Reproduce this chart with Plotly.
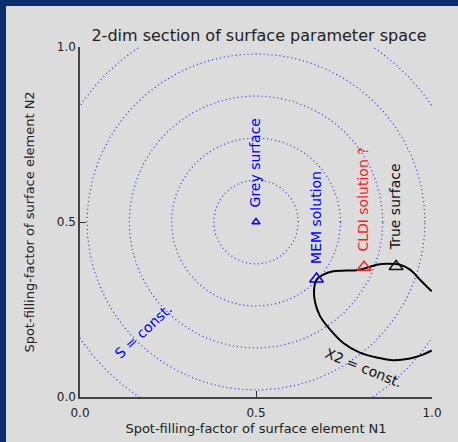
import numpy as np
import plotly.graph_objects as go

# ---------------- data ----------------
title_text = "2-dim section of surface parameter space"
x_title = "Spot-filling-factor of surface element N1"
y_title = "Spot-filling-factor of surface element N2"
tick_vals = [0.0, 0.5, 1.0]
tick_text = ["0.0", "0.5", "1.0"]

# S = const. contours (concentric circles around the grey surface)
s_center = (0.5, 0.5)
s_radii = [0.12, 0.24, 0.36, 0.48, 0.60]

# chi^2 = const. contour
chi_x = [0.999, 0.966, 0.9375, 0.909, 0.871, 0.843, 0.814, 0.786, 0.747, 0.719,
         0.690, 0.672, 0.665, 0.668, 0.682, 0.710, 0.747, 0.795, 0.843, 0.889,
         0.9375, 0.974, 0.999]
chi_y = [0.302, 0.335, 0.364, 0.378, 0.381, 0.378, 0.369, 0.362, 0.361, 0.359,
         0.349, 0.335, 0.307, 0.270, 0.231, 0.193, 0.155, 0.127, 0.113, 0.105,
         0.110, 0.121, 0.133]

# solution points
sol_names = ["Grey surface", "MEM solution", "CLDI solution ?", "True surface"]
sol_x = [0.5, 0.672, 0.807, 0.898]
sol_y = [0.5, 0.337, 0.371, 0.373]
sol_colors = ["#0000ff", "#0000ff", "#ff1a1a", "#111111"]
sol_sizes = [7, 12, 12, 12]
label_x = [0.497, 0.670, 0.803, 0.895]
label_y = [0.670, 0.514, 0.563, 0.542]

# ---------------- figure ----------------
fig = go.Figure()

t = np.linspace(0, 2 * np.pi, 721)
for r in s_radii:
    fig.add_trace(go.Scatter(
        x=s_center[0] + r * np.cos(t), y=s_center[1] + r * np.sin(t),
        mode="lines", line=dict(color="#2a2aff", width=1.2, dash="1px,3px"),
        hoverinfo="skip", showlegend=False))

fig.add_trace(go.Scatter(
    x=chi_x, y=chi_y, mode="lines",
    line=dict(color="#000000", width=2, shape="spline", smoothing=1.0),
    showlegend=False))

for i in range(len(sol_names)):
    fig.add_trace(go.Scatter(
        x=[sol_x[i]], y=[sol_y[i]], mode="markers",
        marker=dict(symbol="triangle-up-open", size=sol_sizes[i],
                    color=sol_colors[i], line=dict(width=1.5, color=sol_colors[i])),
        showlegend=False))
    fig.add_annotation(x=label_x[i], y=label_y[i], text=sol_names[i],
                       textangle=-90, showarrow=False,
                       font=dict(family="DejaVu Sans", size=14, color=sol_colors[i]),
                       xanchor="center", yanchor="middle")

fig.add_annotation(x=0.18, y=0.19, text="S = const.", textangle=-43,
                   showarrow=False,
                   font=dict(family="DejaVu Sans", size=14, color="#0000ff"))
fig.add_annotation(x=0.808, y=0.084, text="X2 = const.", textangle=22,
                   showarrow=False,
                   font=dict(family="DejaVu Sans", size=14, color="#111111"))

# blue frame strips (left and top)
border = "#0b2d6e"
fig.add_shape(type="rect", xref="paper", yref="paper",
              x0=-0.5, x1=-74 / 352, y0=-0.5, y1=1.5,
              fillcolor=border, line=dict(width=0), layer="above")
fig.add_shape(type="rect", xref="paper", yref="paper",
              x0=-0.5, x1=1.5, y0=(47 - 6) / 350 + 1, y1=1.5,
              fillcolor=border, line=dict(width=0), layer="above")

axis_common = dict(
    range=[0, 1], tickvals=tick_vals, ticktext=tick_text,
    ticks="inside", ticklen=6, tickwidth=1.2, tickcolor="#333333",
    showline=True, linecolor="#444444", linewidth=1.5, mirror=False,
    showgrid=False, zeroline=False, automargin=False,
    tickfont=dict(family="DejaVu Sans", size=12, color="#222222"),
)

fig.update_layout(
    width=458, height=442,
    margin=dict(l=80, r=26, t=47, b=45, autoexpand=False),
    paper_bgcolor="#dcdcdc", plot_bgcolor="#dcdcdc",
    title=dict(text=title_text, x=259 / 458, xanchor="center",
               y=1 - 35 / 442, yanchor="middle",
               font=dict(family="DejaVu Sans", size=16, color="#222222")),
    xaxis=dict(axis_common, ticklabelstandoff=4,
               title=dict(text=x_title, standoff=5,
                          font=dict(family="DejaVu Sans", size=13, color="#222222"))),
    yaxis=dict(axis_common,
               title=dict(text=y_title, standoff=19,
                          font=dict(family="DejaVu Sans", size=13, color="#222222"))),
    showlegend=False,
)

fig.write_html("out.html",
               config={"displayModeBar": False},
               post_script="document.body.style.margin='0px';"
                           "document.body.style.padding='0px';"
                           "document.body.style.overflow='hidden';")
